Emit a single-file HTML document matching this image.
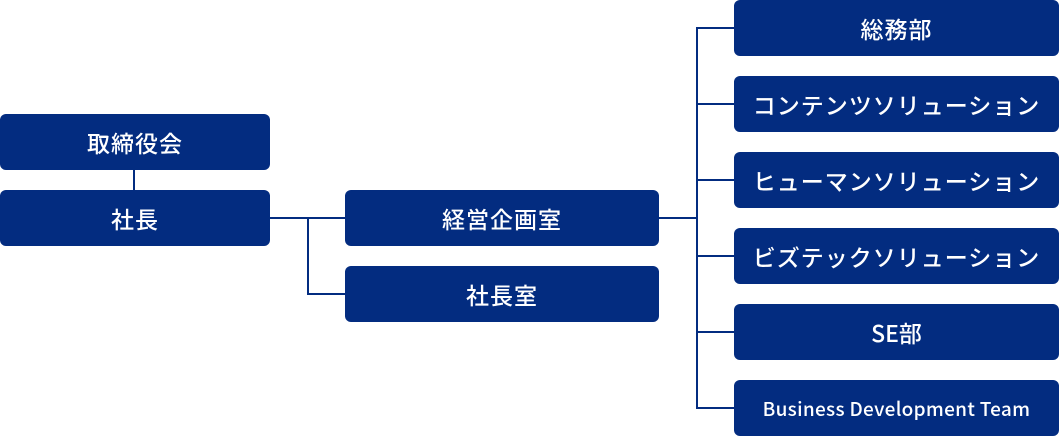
<!DOCTYPE html>
<html><head><meta charset="utf-8"><style>
body{margin:0;width:1060px;height:436px;background:#fff;position:relative;overflow:hidden;font-family:"Liberation Sans","Noto Sans CJK JP",sans-serif}
.b{position:absolute;background:#032c80;color:#fff;border-radius:6px;display:flex;align-items:center;justify-content:center;font-size:23px;letter-spacing:1px;font-weight:500;font-family:"Noto Sans CJK JP","Liberation Sans",sans-serif;height:56px}
.l{position:absolute;background:#032c80}
</style></head><body>
<div class="b" style="left:0;top:114px;width:270px">取締役会</div>
<div class="b" style="left:0;top:190px;width:270px">社長</div>
<div class="l" style="left:133px;top:169px;width:2px;height:22px"></div>
<div class="l" style="left:270px;top:217px;width:76px;height:2px"></div>
<div class="l" style="left:307px;top:217px;width:2px;height:78px"></div>
<div class="l" style="left:307px;top:293px;width:39px;height:2px"></div>
<div class="b" style="left:345px;top:190px;width:314px">経営企画室</div>
<div class="b" style="left:345px;top:266px;width:314px">社長室</div>
<div class="l" style="left:659px;top:217px;width:39px;height:2px"></div>
<div class="l" style="left:696px;top:27px;width:2px;height:382px"></div>
<div class="l" style="left:696px;top:27px;width:39px;height:2px"></div>
<div class="l" style="left:696px;top:103px;width:39px;height:2px"></div>
<div class="l" style="left:696px;top:179px;width:39px;height:2px"></div>
<div class="l" style="left:696px;top:255px;width:39px;height:2px"></div>
<div class="l" style="left:696px;top:331px;width:39px;height:2px"></div>
<div class="l" style="left:696px;top:407px;width:39px;height:2px"></div>
<div class="b" style="left:734px;top:0;width:325px">総務部</div>
<div class="b" style="left:734px;top:76px;width:325px">コンテンツソリューション</div>
<div class="b" style="left:734px;top:152px;width:325px">ヒューマンソリューション</div>
<div class="b" style="left:734px;top:228px;width:325px">ビズテックソリューション</div>
<div class="b" style="left:734px;top:304px;width:325px;letter-spacing:0">SE部</div>
<div class="b" style="left:734px;top:380px;width:325px;font-size:19px;letter-spacing:0.3px">Business Development Team</div>
</body></html>
